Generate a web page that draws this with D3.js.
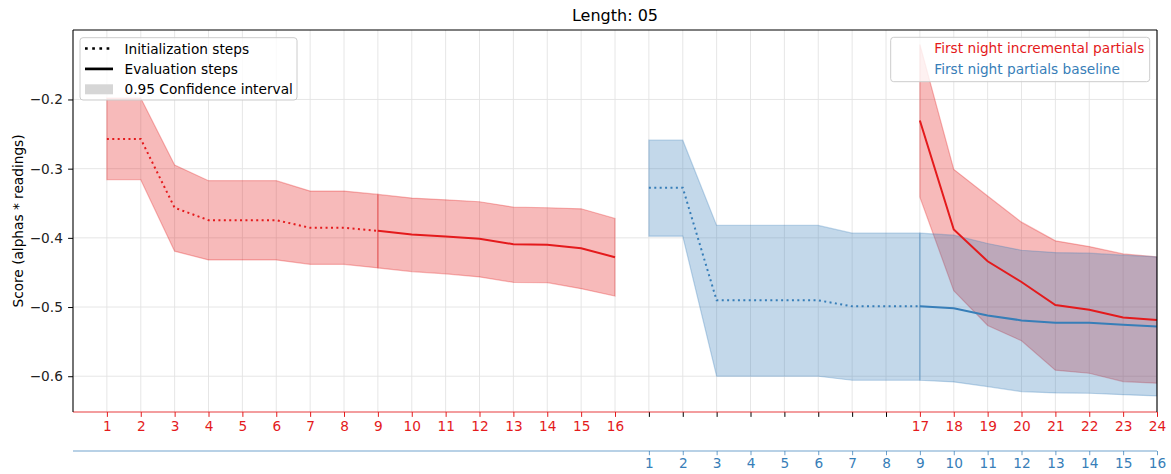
<!DOCTYPE html>
<html>
<head>
<meta charset="utf-8">
<script src="https://cdn.jsdelivr.net/npm/d3@7"></script>
<style>
  body { margin: 0; background: #fff; }
  svg { display: block; font-family: "DejaVu Sans", sans-serif; }
</style>
</head>
<body>
<svg id="chart" width="1171" height="474"></svg>
<script>
// ---- data ---------------------------------------------------------------
// First night incremental partials, steps 1-16 (init 1-9, eval 9-16)
const redSteps = [1, 2, 3, 4, 5, 6, 7, 8, 9, 10, 11, 12, 13, 14, 15, 16];
const redMean  = [-0.257, -0.257, -0.3565, -0.3744, -0.3744, -0.3744, -0.3855, -0.3855,
                  -0.3899, -0.3952, -0.398, -0.4014, -0.4092, -0.4101, -0.415, -0.428];
const redUpper = [-0.198, -0.198, -0.2947, -0.3174, -0.3174, -0.3174, -0.3324, -0.3324,
                  -0.3372, -0.3425, -0.345, -0.3478, -0.3556, -0.3565, -0.358, -0.372];
const redLower = [-0.316, -0.316, -0.4193, -0.4319, -0.4319, -0.4319, -0.4382, -0.4382,
                  -0.4435, -0.4488, -0.452, -0.4565, -0.4643, -0.4647, -0.4734, -0.484];

// First night incremental partials, steps 17-24 (eval only)
const redLateSteps = [17, 18, 19, 20, 21, 22, 23, 24];
const redLateMean  = [-0.2305, -0.3879, -0.4338, -0.4638, -0.4971, -0.5039, -0.515, -0.5188];
const redLateUpper = [-0.1205, -0.301, -0.3396, -0.3773, -0.4043, -0.4126, -0.4232, -0.4275];
const redLateLower = [-0.3411, -0.4763, -0.5266, -0.5488, -0.5913, -0.5957, -0.6077, -0.6101];

// First night partials baseline, steps 1-16 (init 1-9, eval 9-16)
const blueSteps = [1, 2, 3, 4, 5, 6, 7, 8, 9, 10, 11, 12, 13, 14, 15, 16];
const blueMean  = [-0.3275, -0.3275, -0.4903, -0.4903, -0.4903, -0.4903, -0.499, -0.499,
                   -0.499, -0.5019, -0.5121, -0.5193, -0.5227, -0.5227, -0.5256, -0.528];
const blueUpper = [-0.2589, -0.2589, -0.3821, -0.3821, -0.3821, -0.3821, -0.3932, -0.3932,
                   -0.3932, -0.3961, -0.4082, -0.4179, -0.4213, -0.4222, -0.4251, -0.4275];
const blueLower = [-0.3976, -0.3976, -0.6, -0.6, -0.6, -0.6, -0.6058, -0.6058,
                   -0.6058, -0.6082, -0.615, -0.6222, -0.6242, -0.6246, -0.6266, -0.6285];

const initLastStep = 9;   // initialization runs through step 9, evaluation from step 9

// tick labels along the two x axes (one entry per slot)
const redTickLabels  = ["1","2","3","4","5","6","7","8","9","10","11","12","13","14","15","16",
                        "","","","","","","","",
                        "17","18","19","20","21","22","23","24"];
const blueTickLabels = ["1","2","3","4","5","6","7","8","9","10","11","12","13","14","15","16"];
const yTicks = [-0.6, -0.5, -0.4, -0.3, -0.2];

// ---- layout --------------------------------------------------------------
const RED = "#e41a1c", BLUE = "#377eb8";
const FONT = 13.7;
const plot = { left: 73, right: 1157, top: 30, bottom: 412 };
const nSlots = redTickLabels.length;             // 32 positions on the shared x axis
const blueOffset = nSlots - blueTickLabels.length; // baseline steps sit on the right half
const redLateOffset = nSlots - redLateSteps.length - 16; // steps 17+ share slots with baseline 9+

const x = d3.scaleLinear().domain([0, nSlots]).range([plot.left, plot.right]);
const y = d3.scaleLinear().domain([-0.6517, -0.0996]).range([plot.bottom, plot.top]);

const svg = d3.select("#chart");

svg.append("defs").append("clipPath").attr("id", "plotclip")
  .append("rect")
  .attr("x", plot.left).attr("y", plot.top)
  .attr("width", plot.right - plot.left).attr("height", plot.bottom - plot.top);

// ---- grid ----------------------------------------------------------------
const slots = redTickLabels.map((_, i) => i + 1);
const grid = svg.append("g").attr("stroke", "#e3e3e3").attr("stroke-width", 0.9);
grid.selectAll(".gx").data(slots).join("line")
  .attr("x1", d => x(d)).attr("x2", d => x(d))
  .attr("y1", plot.top).attr("y2", plot.bottom);
grid.selectAll(".gy").data(yTicks).join("line")
  .attr("x1", plot.left).attr("x2", plot.right)
  .attr("y1", d => y(d)).attr("y2", d => y(d));

// ---- series helpers ------------------------------------------------------
function rows(steps, mean, lo, hi, offset) {
  return steps.map((s, i) => ({ slot: s + offset, step: s, m: mean[i], lo: lo[i], hi: hi[i] }));
}
const area = d3.area().x(d => x(d.slot)).y0(d => y(d.lo)).y1(d => y(d.hi));
const line = d3.line().x(d => x(d.slot)).y(d => y(d.m));

const redRows     = rows(redSteps, redMean, redLower, redUpper, 0);
const redLateRows = rows(redLateSteps, redLateMean, redLateLower, redLateUpper, redLateOffset);
const blueRows    = rows(blueSteps, blueMean, blueLower, blueUpper, blueOffset);

const initPart = r => r.filter(d => d.step <= initLastStep);
const evalPart = r => r.filter(d => d.step >= initLastStep);

const plotG = svg.append("g").attr("clip-path", "url(#plotclip)");

function band(data, color) {
  plotG.append("path").datum(data)
    .attr("d", area)
    .attr("fill", color).attr("fill-opacity", 0.3)
    .attr("stroke", color).attr("stroke-opacity", 0.3).attr("stroke-width", 1.2);
}
function trace(data, color, dotted) {
  const p = plotG.append("path").datum(data)
    .attr("d", line)
    .attr("fill", "none").attr("stroke", color).attr("stroke-width", 2);
  if (dotted) p.attr("stroke-dasharray", "2,3.4");
}

// confidence bands: red first, baseline over it
band(initPart(redRows), RED);
band(evalPart(redRows), RED);
band(redLateRows, RED);
band(initPart(blueRows), BLUE);
band(evalPart(blueRows), BLUE);

// mean traces
trace(initPart(redRows), RED, true);
trace(evalPart(redRows), RED, false);
trace(redLateRows, RED, false);
trace(initPart(blueRows), BLUE, true);
trace(evalPart(blueRows), BLUE, false);

// ---- axes ----------------------------------------------------------------
const fmt = d3.format(".1f");
const yAxis = svg.append("g")
  .attr("transform", `translate(${plot.left},0)`)
  .call(d3.axisLeft(y).tickValues(yTicks).tickFormat(fmt).tickSize(4.9).tickPadding(5.2));
yAxis.select(".domain").remove();
yAxis.selectAll(".tick line").attr("stroke", "#000").attr("stroke-width", 1);
yAxis.selectAll(".tick text").attr("font-size", FONT).attr("fill", "#222")
  .attr("font-family", "DejaVu Sans");

// red (incremental) x axis on the bottom spine
const redAxis = svg.append("g")
  .attr("transform", `translate(0,${plot.bottom})`)
  .call(d3.axisBottom(x).tickValues(slots)
    .tickFormat((d, i) => redTickLabels[i]).tickSize(4.9).tickPadding(4.4));
redAxis.select(".domain").remove();
redAxis.selectAll(".tick line").attr("stroke", (d, i) => redTickLabels[i] ? RED : "#000")
  .attr("stroke-width", 1);
redAxis.selectAll(".tick text").attr("font-size", FONT).attr("fill", RED)
  .attr("font-family", "DejaVu Sans");
svg.append("line")
  .attr("x1", plot.left).attr("x2", plot.right)
  .attr("y1", plot.bottom).attr("y2", plot.bottom)
  .attr("stroke", RED).attr("stroke-opacity", 0.85).attr("stroke-width", 1.2);

// blue (baseline) x axis below it
const blueY = 451;
const blueAxis = svg.append("g")
  .attr("transform", `translate(0,${blueY})`)
  .call(d3.axisBottom(x).tickValues(blueTickLabels.map((_, i) => i + 1 + blueOffset))
    .tickFormat((d, i) => blueTickLabels[i]).tickSize(4.2).tickPadding(3.4));
blueAxis.select(".domain").remove();
blueAxis.selectAll(".tick line").attr("stroke", BLUE).attr("stroke-opacity", 0.75)
  .attr("stroke-width", 1);
blueAxis.selectAll(".tick text").attr("font-size", FONT).attr("fill", BLUE)
  .attr("font-family", "DejaVu Sans");
svg.append("line")
  .attr("x1", plot.left).attr("x2", plot.right)
  .attr("y1", blueY).attr("y2", blueY)
  .attr("stroke", BLUE).attr("stroke-opacity", 0.7).attr("stroke-width", 1.2);

// remaining spines
const spines = svg.append("g").attr("stroke", "#000").attr("stroke-width", 1.1);
spines.append("line").attr("x1", plot.left).attr("x2", plot.left)
  .attr("y1", plot.top).attr("y2", plot.bottom);
spines.append("line").attr("x1", plot.right).attr("x2", plot.right)
  .attr("y1", plot.top).attr("y2", plot.bottom);
spines.append("line").attr("x1", plot.left).attr("x2", plot.right)
  .attr("y1", plot.top).attr("y2", plot.top);

// ---- labels --------------------------------------------------------------
svg.append("text")
  .attr("x", (plot.left + plot.right) / 2).attr("y", 21)
  .attr("text-anchor", "middle").attr("font-size", 16).attr("fill", "#000")
  .text("Length: 05");

svg.append("text")
  .attr("transform", `translate(17.7,${(plot.top + plot.bottom) / 2}) rotate(-90)`)
  .attr("text-anchor", "middle").attr("dominant-baseline", "central")
  .attr("font-size", FONT).attr("fill", "#000")
  .text("Score (alphas * readings)");

// ---- legends -------------------------------------------------------------
const styleLegend = svg.append("g");
styleLegend.append("rect")
  .attr("x", 80).attr("y", 37.7).attr("width", 217).attr("height", 62.3).attr("rx", 3)
  .attr("fill", "#fff").attr("fill-opacity", 0.8).attr("stroke", "#cccccc").attr("stroke-width", 1);
const styleItems = [
  { label: "Initialization steps", kind: "dotted" },
  { label: "Evaluation steps", kind: "solid" },
  { label: "0.95 Confidence interval", kind: "patch" }
];
styleItems.forEach((it, i) => {
  const cy = 48.5 + i * 20.4;
  if (it.kind === "patch") {
    styleLegend.append("rect").attr("x", 85).attr("y", cy - 5).attr("width", 28).attr("height", 10)
      .attr("fill", "#d6d6d6");
  } else {
    const l = styleLegend.append("line").attr("x1", 85).attr("x2", 113).attr("y1", cy).attr("y2", cy)
      .attr("stroke", "#000").attr("stroke-width", 2.7);
    if (it.kind === "dotted") l.attr("stroke-dasharray", "2.7,4.5");
  }
  styleLegend.append("text").attr("x", 124.5).attr("y", cy)
    .attr("dominant-baseline", "central").attr("font-size", FONT).attr("fill", "#000")
    .text(it.label);
});

const seriesLegend = svg.append("g");
seriesLegend.append("rect")
  .attr("x", 890.7).attr("y", 37.3).attr("width", 259).attr("height", 44.4).attr("rx", 3)
  .attr("fill", "#fff").attr("fill-opacity", 0.8).attr("stroke", "#cccccc").attr("stroke-width", 1);
const seriesNames = ["First night incremental partials", "First night partials baseline"];
const seriesColors = [RED, BLUE];
seriesNames.forEach((name, i) => {
  seriesLegend.append("text").attr("x", 934.3).attr("y", 48.4 + i * 20.6)
    .attr("dominant-baseline", "central").attr("font-size", FONT).attr("fill", seriesColors[i])
    .text(name);
});
</script>
</body>
</html>
